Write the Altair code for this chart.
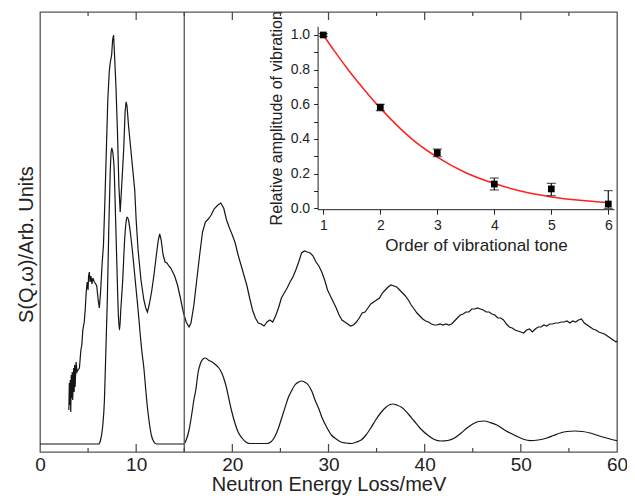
import altair as alt
import pandas as pd

# ---------------- main spectra (arbitrary units) ----------------
upper_x = [3.0, 3.05, 3.1, 3.15, 3.2, 3.25, 3.3, 3.35, 3.4, 3.5, 3.55, 3.6, 3.65, 3.75, 3.85, 3.95,
           4.1, 4.25, 4.35, 4.45, 4.6, 4.7, 4.8, 4.9, 5.0, 5.05, 5.13, 5.2, 5.3, 5.4, 5.5, 5.65,
           5.8, 5.9, 6.05, 6.17, 6.3, 6.45, 6.6, 6.75, 6.9, 7.05, 7.2, 7.3, 7.45, 7.55, 7.65, 7.75,
           7.9, 8.05, 8.2, 8.34, 8.5, 8.7, 8.85, 8.95, 9.05, 9.2, 9.4, 9.55, 9.7, 9.85, 10.0, 10.2,
           10.5, 10.8, 11.0, 11.17, 11.35, 11.6, 11.85, 12.1, 12.3, 12.45, 12.6, 12.8, 13.0, 13.2,
           13.4, 13.6, 13.8, 14.0, 14.3, 14.6, 14.9, 15.2, 15.5, 15.7, 16.0, 16.3, 16.6, 16.9,
           17.2, 17.5, 17.8, 18.1, 18.5, 18.8, 19.1, 19.4, 19.7, 20.0, 20.3, 20.6, 20.9, 21.2,
           21.5, 21.8, 22.1, 22.4, 22.7, 23.0, 23.3, 23.6, 23.9, 24.2, 24.5, 24.8, 25.1, 25.4,
           25.7, 26.0, 26.3, 26.6, 26.9, 27.2, 27.5, 27.8, 28.1, 28.4, 28.7, 29.0, 29.3, 29.6,
           29.9, 30.2, 30.5, 30.8, 31.1, 31.4, 31.7, 32.0, 32.3, 32.6, 32.9, 33.2, 33.5, 33.8,
           34.1, 34.4, 34.7, 35.0, 35.3, 35.6, 35.9, 36.2, 36.5, 36.8, 37.1, 37.4, 37.7, 38.0,
           38.3, 38.6, 38.9, 39.2, 39.5, 39.8, 40.1, 40.4, 40.7, 41.0, 41.3, 41.6, 41.9, 42.2,
           42.5, 42.8, 43.1, 43.4, 43.7, 44.0, 44.3, 44.6, 44.9, 45.2, 45.5, 45.8, 46.1, 46.4,
           46.7, 47.0, 47.3, 47.6, 47.9, 48.2, 48.5, 48.8, 49.1, 49.4, 49.7, 50.0, 50.3, 50.6,
           50.9, 51.2, 51.5, 51.8, 52.1, 52.4, 52.7, 53.0, 53.3, 53.6, 53.9, 54.2, 54.5, 54.8,
           55.1, 55.4, 55.7, 56.0, 56.3, 56.6, 56.9, 57.2, 57.5, 57.8, 58.1, 58.4, 58.7, 59.0,
           59.3, 59.6, 59.9, 60.0]
upper_y = [46, 73, 51, 76, 44, 81, 58, 84, 56, 88, 64, 91, 69, 94, 84, 86,
           88, 106, 111, 126, 134, 146, 163, 174, 166, 180, 184, 174, 180, 172, 178, 174,
           172, 170, 156, 148, 164, 191, 211, 256, 306, 356, 384, 393, 401, 416, 421, 401,
           369, 326, 271, 244, 271, 306, 344, 354, 350, 331, 311, 296, 281, 266, 236, 206,
           176, 156, 148, 144, 151, 164, 181, 201, 216, 222, 216, 201, 194, 193,
           190, 188, 184, 180, 171, 158, 144, 134, 129, 133, 151, 176, 201, 224,
           234, 237, 241, 247, 251, 253, 248, 236, 228, 221, 213, 201, 191, 181,
           171, 158, 146, 138, 133, 132, 130, 134, 136, 134, 140, 148, 158, 163,
           168, 174, 179, 186, 194, 203, 205, 204, 203, 200, 194, 190, 184, 176,
           166, 160, 154, 148, 141, 136, 134, 132, 130, 131, 134, 138, 143, 144,
           148, 152, 154, 156, 158, 163, 166, 169, 171, 170, 169, 166, 163, 160,
           156, 151, 147, 143, 140, 137, 135, 134, 132, 131, 131, 132, 131, 132,
           131, 132, 135, 138, 141, 142, 144, 144, 147, 147, 148, 147, 146, 144,
           144, 142, 141, 138, 138, 136, 132, 129, 128, 126, 125, 124, 123, 126,
           127, 124, 127, 129, 129, 131, 130, 132, 132, 133, 133, 134, 134, 135,
           133, 135, 134, 136, 137, 133, 131, 129, 127, 126, 124, 123, 122, 120,
           118, 116, 114, 115]

lower_x = [0, 6.1, 6.3, 6.5, 6.7, 6.85, 7.0, 7.15, 7.3, 7.4, 7.47, 7.6, 7.7, 7.85, 8.0, 8.15,
           8.27, 8.4, 8.6, 8.8, 8.95, 9.05, 9.2, 9.4, 9.6, 9.8, 10.0, 10.2, 10.4, 10.6, 10.8,
           11.0, 11.2, 11.4, 11.6, 11.85, 12.1, 14.9, 15.2, 15.5, 15.8, 16.0, 16.2, 16.45, 16.7,
           16.95, 17.2, 17.5, 17.9, 18.3, 18.6, 18.9, 19.1, 19.4, 19.6, 19.9, 20.3, 20.6, 21.0,
           21.4, 21.8, 23.6, 24.0, 24.4, 24.8, 25.1, 25.5, 25.8, 26.2, 26.5, 26.9, 27.2, 27.5,
           27.9, 28.3, 28.6, 29.0, 29.3, 29.8, 30.3, 30.8, 31.3, 31.8, 32.4, 32.9, 33.4, 33.9,
           34.4, 34.9, 35.5, 36.0, 36.4, 36.7, 37.1, 37.7, 38.3, 38.9, 39.6, 40.3, 41.0, 41.7,
           42.4, 43.1, 43.8, 44.4, 45.0, 45.6, 46.2, 46.8, 47.5, 48.3, 49.3, 50.2, 51.0, 51.8,
           52.7, 53.4, 54.1, 54.8, 55.6, 56.4, 57.2, 58.0, 58.9, 60.0]
lower_y = [12, 12, 16, 28, 56, 106, 156, 226, 283, 304, 308, 301, 289, 241, 189, 141,
           126, 146, 176, 216, 234, 239, 236, 223, 206, 186, 166, 146, 124, 104, 88,
           66, 46, 31, 20, 14, 12, 12, 16, 26, 43, 56, 66, 84, 93,
           97, 98, 96, 94, 91, 88, 83, 78, 68, 59, 46, 32, 24, 18,
           14, 12.5, 12.5, 14, 19, 28, 37, 49, 58, 66, 71, 74, 75, 74,
           71, 64, 56, 47, 39, 29, 21, 17, 14, 13, 12.5, 14, 16, 21,
           28, 36, 44, 49, 51.5, 52, 51, 48, 42, 35, 27, 21, 16.5, 15,
           15.5, 18, 23, 28, 32, 34.5, 35, 33.5, 31, 26, 21, 17, 15.3, 16,
           18, 20.5, 23, 24.5, 25, 24.5, 23, 20.5, 18, 15.3]

divider_e = [15]
major_ticks = [10, 20, 30, 40, 50]
minor_ticks = [5, 15, 25, 35, 45, 55]

# ---------------- inset ----------------
order = [1, 2, 3, 4, 5, 6]
amp = [1.0, 0.583, 0.321, 0.140, 0.112, 0.025]
amp_lo = [0.992, 0.563, 0.298, 0.106, 0.073, 0.0]
amp_hi = [1.008, 0.600, 0.342, 0.175, 0.144, 0.102]
fit_x = [1, 1.2, 1.44, 1.73, 2, 2.32, 2.61, 3, 3.5, 4, 4.5, 5, 5.5, 6]
fit_y = [1.0, 0.905, 0.798, 0.68, 0.578, 0.47, 0.385, 0.295, 0.205, 0.143, 0.097, 0.066, 0.046, 0.033]
inset_yticks = [0, 0.1, 0.2, 0.3, 0.4, 0.5, 0.6, 0.7, 0.8, 0.9, 1.0]

FONT = "Liberation Sans"
TXT = "#222222"
W, H = 577, 440

df_up = pd.DataFrame({"e": upper_x, "s": upper_y})
df_lo = pd.DataFrame({"e": lower_x, "s": lower_y})
df_div = pd.DataFrame({"e": divider_e})
df_major = pd.DataFrame({"e": major_ticks})
df_minor = pd.DataFrame({"e": minor_ticks})

xs = alt.Scale(domain=[0, 60], nice=False, zero=False)
ys = alt.Scale(domain=[4, 444], nice=False, zero=False)
xaxis = alt.Axis(title="Neutron Energy Loss/meV", values=[0, 10, 20, 30, 40, 50, 60],
                 ticks=False, domain=False, grid=False, labelFontSize=19, titleFontSize=20,
                 labelPadding=3, titlePadding=0, labelFlush=False, format="d")
yaxis = alt.Axis(title="S(Q,\u03c9)/Arb. Units", labels=False, ticks=False, domain=False,
                 grid=False, titleFontSize=20, titlePadding=4, titleY=232)
X = alt.X("e:Q", scale=xs, axis=xaxis)
Y = alt.Y("s:Q", scale=ys, axis=yaxis)

line_col = "#151515"
upper = alt.Chart(df_up).mark_line(color=line_col, strokeWidth=1.2).encode(x=X, y=Y)
lower = alt.Chart(df_lo).mark_line(color=line_col, strokeWidth=1.2, interpolate="monotone").encode(x=X, y=Y)
divider = alt.Chart(df_div).mark_rule(color="#555555", strokeWidth=1.3).encode(x=X)
tk_col = "#444444"
maj_bot = alt.Chart(df_major).mark_rule(color=tk_col, strokeWidth=1.2).encode(x=X, y=alt.value(H), y2=alt.value(H - 8))
maj_top = alt.Chart(df_major).mark_rule(color=tk_col, strokeWidth=1.2).encode(x=X, y=alt.value(0), y2=alt.value(8))
min_bot = alt.Chart(df_minor).mark_rule(color=tk_col, strokeWidth=1.2).encode(x=X, y=alt.value(H), y2=alt.value(H - 4))
min_top = alt.Chart(df_minor).mark_rule(color=tk_col, strokeWidth=1.2).encode(x=X, y=alt.value(0), y2=alt.value(4))

main = alt.layer(upper, lower, divider, maj_bot, maj_top, min_bot, min_top)

# inset chart placed through its own scale ranges (pixels inside plot area)
df_pts = pd.DataFrame({"n": order, "a": amp, "lo": amp_lo, "hi": amp_hi})
df_caps = pd.DataFrame({"n": order + order, "a": amp_lo + amp_hi})
df_fit = pd.DataFrame({"n": fit_x, "a": fit_y})

ixs = alt.Scale(domain=[0.9, 6.1], range=[277.6, 574], nice=False, zero=False)
iys = alt.Scale(domain=[-0.005, 1.05], range=[197.2, 14.3], nice=False, zero=False)
ixaxis = alt.Axis(orient="bottom", offset=-(H - 197.2), values=order, format="d",
                  title="Order of vibrational tone", grid=False, tickSize=5,
                  labelFontSize=14, titleFontSize=17, labelPadding=4, titlePadding=5,
                  domainColor=TXT, tickColor=TXT, labelFlush=False, titleX=436)
iyaxis = alt.Axis(orient="left", offset=-277.6, values=inset_yticks,
                  labelExpr="round(datum.value * 10) % 2 == 0 ? format(datum.value, '.1f') : ''",
                  title="Relative amplitude of vibration", grid=False, tickSize=4,
                  labelFontSize=14, titleFontSize=16, labelPadding=4, titlePadding=6,
                  domainColor=TXT, tickColor=TXT, labelFlush=False)
IX = alt.X("n:Q", scale=ixs, axis=ixaxis)
IY = alt.Y("a:Q", scale=iys, axis=iyaxis)

fit = alt.Chart(df_fit).mark_line(color="#ff2020", strokeWidth=1.5, interpolate="monotone").encode(x=IX, y=IY)
bars = alt.Chart(df_pts).mark_rule(color="#111111", strokeWidth=1.2).encode(
    x=IX, y=alt.Y("lo:Q", scale=iys, axis=iyaxis), y2="hi:Q")
caps = alt.Chart(df_caps).mark_tick(color="#111111", orient="horizontal", size=9, thickness=1.2).encode(x=IX, y=IY)
pts = alt.Chart(df_pts).mark_square(color="#000000", size=45, opacity=1).encode(x=IX, y=IY)

inset = alt.layer(fit, bars, caps, pts)

chart = (
    alt.layer(main, inset)
    .resolve_scale(x="independent", y="independent")
    .resolve_axis(x="independent", y="independent")
    .properties(width=W, height=H, autosize=alt.AutoSizeParams(type="none"),
                padding={"left": 32, "top": 4, "right": 10, "bottom": 44})
    .configure_view(stroke="#555555", strokeWidth=1.3)
    .configure_axis(labelFont=FONT, titleFont=FONT, labelColor=TXT, titleColor=TXT,
                    titleFontWeight="normal")
)

chart.save("out.html", embed_options={"renderer": "svg", "actions": False})
